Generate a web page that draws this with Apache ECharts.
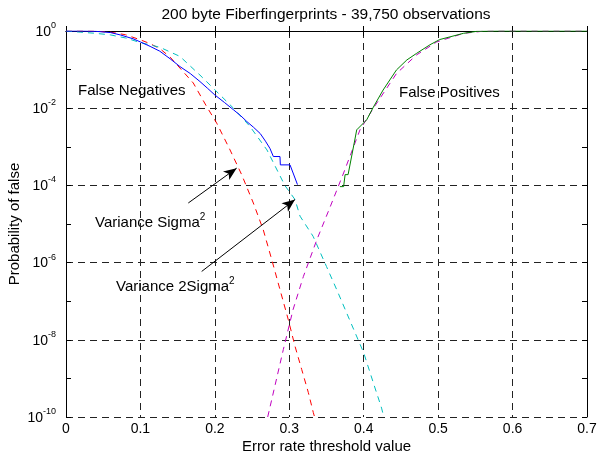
<!DOCTYPE html>
<html>
<head>
<meta charset="utf-8">
<script src="https://cdn.jsdelivr.net/npm/echarts@6/dist/echarts.min.js"></script>
<style>html,body{margin:0;padding:0;background:#fff}#c{width:597px;height:458px}</style>
</head>
<body>
<div id="c"></div>
<script>
// ---- data (probabilities) ----
const xTicks = [0, 0.1, 0.2, 0.3, 0.4, 0.5, 0.6, 0.7];
const yTickExponents = [0, -2, -4, -6, -8, -10];

// measured false negatives (blue, solid)
const fnX = [0, 0.02, 0.04, 0.06, 0.073, 0.09, 0.1, 0.113, 0.126, 0.14, 0.153, 0.167, 0.18, 0.19, 0.2, 0.213, 0.225, 0.235, 0.243, 0.252, 0.261, 0.268, 0.274, 0.2786, 0.2875, 0.288, 0.301, 0.311];
const fnP = [1, 1, 0.98, 0.91, 0.79, 0.63, 0.52, 0.40, 0.30, 0.19, 0.12, 0.079, 0.049, 0.033, 0.022, 0.014, 0.0091, 0.0063, 0.0045, 0.0032, 0.0022, 0.0014, 0.00091, 0.00056, 0.00056, 0.00034, 0.00034, 0.000105];

// model, variance sigma^2 (red, dashed)
const sig1X = [0, 0.04, 0.06, 0.08, 0.1, 0.113, 0.126, 0.14, 0.153, 0.171, 0.189, 0.2025, 0.2204, 0.236, 0.2517, 0.265, 0.2764, 0.2875, 0.2987, 0.3077, 0.3167, 0.3256, 0.3323, 0.334];
const sig1P = [1, 0.99, 0.93, 0.8, 0.59, 0.47, 0.35, 0.21, 0.11, 0.045, 0.011, 0.0041, 8.3e-4, 1.9e-4, 3.5e-5, 7.1e-6, 1.2e-6, 2.0e-7, 3.3e-8, 6.8e-9, 1.7e-9, 4.3e-10, 1.3e-10, 1e-10];

// model, variance 2sigma^2 (cyan, dashed)
const sig2X = [0, 0.02, 0.04, 0.06, 0.08, 0.1, 0.126, 0.153, 0.18, 0.2, 0.225, 0.247, 0.27, 0.294, 0.3077, 0.3144, 0.332, 0.35, 0.3637, 0.377, 0.4, 0.413, 0.424, 0.427];
const sig2P = [1, 0.93, 0.87, 0.79, 0.66, 0.5, 0.38, 0.22, 0.072, 0.03, 0.01, 0.0034, 8.3e-4, 1.0e-4, 4.3e-5, 1.6e-5, 4.8e-6, 7.9e-7, 2.0e-7, 5.0e-8, 4.6e-9, 7.6e-10, 1.7e-10, 1e-10];

// model, false positives (magenta, dashed)
const fpModelX = [0.271, 0.292, 0.305, 0.319, 0.337, 0.355, 0.373, 0.395, 0.413, 0.444, 0.471, 0.498, 0.534, 0.561, 0.6, 0.7];
const fpModelP = [1e-10, 5.6e-9, 6.0e-8, 4.4e-7, 3.9e-6, 2.8e-5, 2.1e-4, 2.75e-3, 0.01, 0.079, 0.24, 0.52, 0.87, 0.99, 1, 1];

// measured false positives (green, solid)
const fpX = [0.368, 0.373, 0.375, 0.379, 0.388, 0.3906, 0.404, 0.413, 0.426, 0.444, 0.458, 0.471, 0.489, 0.502, 0.534, 0.552, 0.58, 0.7];
const fpP = [9.3e-5, 9.3e-5, 1.9e-4, 1.9e-4, 1.5e-3, 2.75e-3, 5.0e-3, 0.0107, 0.0295, 0.098, 0.178, 0.263, 0.44, 0.60, 0.87, 0.98, 1, 1];

// annotation arrows [x0, p0, x1, p1] in data space
const arrow1 = [0.1643, 3.5e-5, 0.2293, 2.8e-4];
const arrow2 = [0.1823, 5.9e-7, 0.3077, 4.3e-5];

// ---- build ----
const L = v => Math.log10(v);
const pts = (xs, ps) => xs.map((x, i) => [x, L(ps[i])]);
const FONT = 'Liberation Sans, Arial, sans-serif';

const chart = echarts.init(document.getElementById('c'), null, {renderer: 'canvas'});

function lineSeries(name, xs, ps, color, dashed, extra) {
  return Object.assign({
    name, type: 'line', data: pts(xs, ps), showSymbol: false, symbol: 'none',
    xAxisIndex: 0, yAxisIndex: 0, animation: false, silent: true,
    lineStyle: {color, width: 1, type: dashed ? [6, 5] : 'solid'}
  }, extra || {});
}

const arrowLine = a => [{coord: [a[0], L(a[1])], symbol: 'none'}, {coord: [a[2], L(a[3])], symbol: 'arrow', symbolSize: [8, 13]}];

const supRich = (big, small, lh) => ({
  b: {fontFamily: FONT, fontSize: big, color: '#000', lineHeight: lh, verticalAlign: 'bottom'},
  s: {fontFamily: FONT, fontSize: small, color: '#000', verticalAlign: 'top'}
});

const option = {
  animation: false,
  backgroundColor: '#fff',
  textStyle: {fontFamily: FONT},
  grid: {left: 66, right: 10, top: 31, bottom: 41, containLabel: false, outerBoundsMode: 'none'},
  xAxis: [{
    type: 'value', min: 0, max: 0.7, interval: 0.1,
    name: 'Error rate threshold value', nameLocation: 'middle', nameGap: 22, nameMoveOverlap: false,
    nameTextStyle: {fontFamily: FONT, fontSize: 15, color: '#000'},
    axisLine: {lineStyle: {color: '#000', width: 1}},
    axisTick: {inside: true, length: 5, lineStyle: {color: '#000'}},
    axisLabel: {fontFamily: FONT, fontSize: 14, color: '#000', margin: 5,
      formatter: v => (Math.abs(v) < 1e-9 ? '0' : v.toFixed(1))},
    splitLine: {show: true, lineStyle: {color: '#222', type: [7, 5], width: 1}}
  }, {
    type: 'value', min: 0, max: 0.7, interval: 0.1, position: 'top',
    axisLine: {show: true, onZero: false, lineStyle: {color: '#000'}},
    axisTick: {show: true, inside: true, length: 5, lineStyle: {color: '#000'}},
    axisLabel: {show: false}, splitLine: {show: false}
  }],
  yAxis: [{
    type: 'value', min: -10, max: 0, interval: 2,
    name: 'Probability of false', nameLocation: 'middle', nameGap: 44, nameMoveOverlap: false,
    nameTextStyle: {fontFamily: FONT, fontSize: 15, color: '#000'},
    axisLine: {show: true, lineStyle: {color: '#000', width: 1}},
    axisTick: {show: true, inside: true, length: 5, lineStyle: {color: '#000'}},
    minorTick: {show: true, splitNumber: 2, length: 5, lineStyle: {color: '#000'}},
    axisLabel: {
      margin: 10, padding: [0, 0, 2, 0],
      formatter: v => '{b|10}{s|' + Math.round(v) + '}',
      rich: supRich(14, 9, 18)
    },
    splitLine: {show: true, lineStyle: {color: '#222', type: [7, 5], width: 1}}
  }, {
    type: 'value', min: -10, max: 0, interval: 2, position: 'right',
    axisLine: {show: true, onZero: false, lineStyle: {color: '#000'}},
    axisTick: {show: true, inside: true, length: 5, lineStyle: {color: '#000'}},
    minorTick: {show: true, splitNumber: 2, length: 5, lineStyle: {color: '#000'}},
    axisLabel: {show: false}, splitLine: {show: false}
  }],
  series: [
    lineSeries('Variance Sigma^2', sig1X, sig1P, '#ff0000', true, {
      markLine: {
        silent: true, animation: false, symbol: ['none', 'arrow'],
        lineStyle: {color: '#000', width: 1, type: 'solid'},
        label: {show: false},
        data: [arrowLine(arrow1), arrowLine(arrow2)]
      }
    }),
    lineSeries('Variance 2Sigma^2', sig2X, sig2P, '#00bfbf', true),
    lineSeries('False positives model', fpModelX, fpModelP, '#bf00bf', true),
    lineSeries('False negatives', fnX, fnP, '#0000ff', false),
    lineSeries('False positives', fpX, fpP, '#008000', false)
  ],
  graphic: [
    {type: 'text', x: 326, y: 7, style: {text: '200 byte Fiberfingerprints - 39,750 observations', font: '15.5px ' + FONT, fill: '#000', textAlign: 'center', textVerticalAlign: 'top'}},
    {type: 'text', left: 78, top: 83, style: {text: 'False Negatives', font: '15px ' + FONT, fill: '#000'}},
    {type: 'text', left: 399, top: 85, style: {text: 'False Positives', font: '15px ' + FONT, fill: '#000'}},
    {type: 'text', left: 95, top: 212, style: {text: '{b|Variance Sigma}{s|2}', fill: '#000', rich: supRich(15, 10, 18)}},
    {type: 'text', left: 116, top: 276, style: {text: '{b|Variance 2Sigma}{s|2}', fill: '#000', rich: supRich(15, 10, 18)}}
  ]
};
chart.setOption(option);
</script>
</body>
</html>
